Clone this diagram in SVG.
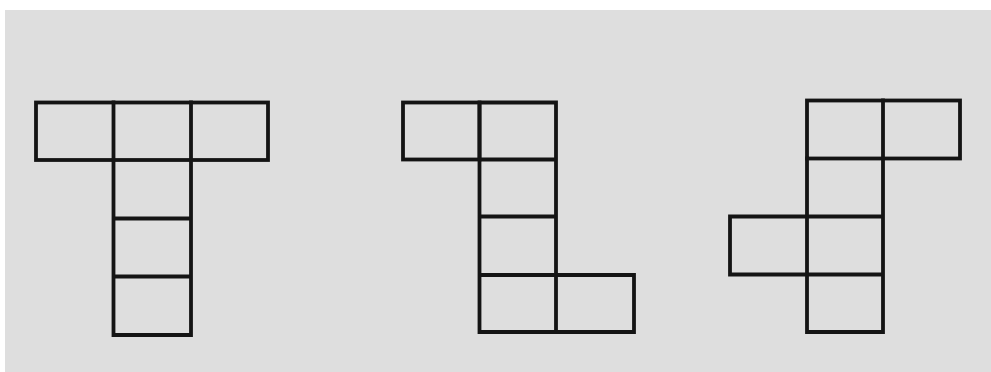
<svg xmlns="http://www.w3.org/2000/svg" width="991" height="372" viewBox="0 0 991 372">
<style>
.net path, .net rect { fill: none; stroke: #141414; stroke-width: 3.8; stroke-linejoin: miter; stroke-linecap: square; }
</style>
<rect x="0" y="0" width="991" height="372" fill="#ffffff"/>
<rect x="5" y="10" width="986" height="362" fill="#dedede"/>
<g id="net1" class="net">
<rect x="36" y="102.5" width="232" height="57.5"/>
<path d="M113.5 102.5 V335 H191 V102.5 M113.5 218.5 H191 M113.5 276.5 H191"/>
</g>
<g id="net2" class="net">
<rect x="403" y="102.5" width="76.5" height="57"/>
<path d="M479.5 102.5 H556 V332 H479.5 Z M479.5 159.5 H556 M479.5 216.5 H556 M479.5 275 H634 V332 H556"/>
</g>
<g id="net3" class="net">
<rect x="807" y="100.5" width="153" height="58"/>
<path d="M883 100.5 V332 H807 V158.5 M807 216.5 H730 V274.5 H883 M807 216.5 H883"/>
</g>
</svg>
